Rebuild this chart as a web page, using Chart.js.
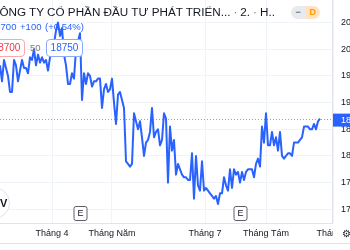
<!DOCTYPE html>
<html>
<head>
<meta charset="utf-8">
<script src="https://cdn.jsdelivr.net/npm/chart.js@4.4.1/dist/chart.umd.min.js"></script>
<style>
  body { margin: 0; background: #fff; }
  #wrap { position: relative; width: 350px; height: 250px; overflow: hidden; font-family: "Liberation Sans", Arial, sans-serif; }
  #chart { position: absolute; left: 0; top: 0; }
  .abs { position: absolute; white-space: nowrap; }
  #title { left: -9px; top: 5px; font-size: 11.7px; line-height: 13px; color: #131722; }
  #title .sep { color: #787b86; margin: 0 3px; }
  #vals { left: -10px; top: 21px; font-size: 9.5px; line-height: 12px; color: #2962ff; word-spacing: 1px; }
  .box { top: 39px; height: 16px; line-height: 16px; font-size: 10px; border-radius: 4px; text-align: center; background: #fff; }
  #bid { left: -12px; width: 35px; border: 1px solid #f7a9b0; color: #f23645; }
  #spread { left: 30px; top: 40px; font-size: 9.5px; line-height: 16px; color: #787b86; }
  #ask { left: 46px; width: 35px; border: 1px solid #8eaaff; color: #2962ff; }
  #toggle { left: 291px; top: 6px; height: 13px; width: 29px; border-radius: 7px; overflow: hidden; font-size: 9px; line-height: 13px; font-weight: bold; }
  #toggle span { display: inline-block; width: 14.5px; text-align: center; }
  #toggle .m { background: #e9eaed; color: #6a6d78; }
  #toggle .d { background: #ffe2bf; color: #ff9800; }
  #corner { left: 333px; top: 224px; width: 17px; height: 19px; background: #fff; color: #131722; font-size: 10px; line-height: 19px; text-indent: 9px; }
  #bottomline { left: 0; top: 243px; width: 350px; height: 1px; background: #e0e3eb; }
  #logo { left: -22px; top: 187px; width: 30px; height: 30px; border-radius: 50%; border: 1px solid #e0e3eb; background: #fff; font-size: 11px; font-weight: bold; line-height: 30px; text-indent: 21px; color: #131722; }
</style>
</head>
<body>
<div id="wrap">
  <canvas id="chart" width="350" height="250"></canvas>
  <div class="abs" id="title">CÔNG TY CỔ PHẦN ĐẦU TƯ PHÁT TRIỂN...<span class="sep">·</span>2.<span class="sep">·</span>H..</div>
  <div class="abs" id="vals">18700 +100 (+0.54%)</div>
  <div class="abs box" id="bid">18700</div>
  <div class="abs" id="spread">50</div>
  <div class="abs box" id="ask">18750</div>
  <div class="abs" id="toggle"><span class="m">−</span><span class="d">D</span></div>
  <div class="abs" id="logo">V</div>
  <div class="abs" id="corner">⚙</div>
  <div class="abs" id="bottomline"></div>
</div>
<script>
// daily closes
const prices = [
    19700, 19400, 19800, 19650, 19500, 19200, 19200, 19800, 19700, 19400,
    19600, 19800, 19650, 19650, 19550, 19850, 19800, 20000, 19700, 19900,
    19750, 19850, 19750, 19800, 19600, 19850, 20000, 20100, 20350, 20500,
    20250, 20400, 19900, 19700, 19350, 19350, 19550, 19450, 20000, 20150,
    20300, 19050, 19550, 19350, 19550, 19500, 19300, 19400, 19400, 19450,
    19450, 18900, 19250, 19350, 19200, 19250, 19450, 19000, 18600, 19150,
    19200, 19050, 18900, 17900, 17850, 17800, 17850, 18800, 18650, 18500,
    18650, 18350, 18000, 18250, 18300, 18450, 18900, 18350, 18450, 18500,
    18200, 18300, 18800, 18700, 17500, 18550, 18100, 18300, 17650, 17850,
    17750, 17650, 17600, 17600, 17550, 17550, 18050, 17200, 18000, 17450,
    17350, 17900, 17350, 17400, 17350, 17300, 17250, 17200, 17250, 17100,
    17300, 17300, 17600, 17450, 17350, 17750, 17400, 17750, 17650, 17700,
    17500, 17700, 17550, 17700, 17750, 17750, 17750, 17600, 17850, 17950,
    17800, 18550, 18250, 18800, 18200, 18200, 18450, 18200, 18350, 18100,
    18450, 18000, 17950, 18000, 18050, 18050, 18000, 18250, 18250, 18250,
    18300, 18350, 18550, 18550, 18550, 18500, 18500, 18600, 18500, 18650,
    18700
];
const monthTicks = [26, 56, 102.5, 133, 166.5];
const monthNames = ['Tháng 4', 'Tháng Năm', 'Tháng 7', 'Tháng Tám', 'Tháng 9'];
const priceTicks = [17000, 17500, 18000, 18500, 19000, 19500, 20000, 20500];
const eventBars = [40, 120];
const lastPrice = prices[prices.length - 1];

const fontFam = '"Liberation Sans", Arial, sans-serif';

const marks = {
    id: 'marks',
    beforeDatasetsDraw(chart) {
        const c = chart.ctx, a = chart.chartArea;
        const py = Math.round(chart.scales.y.getPixelForValue(lastPrice)) + 0.5;
        c.save();
        c.strokeStyle = 'rgba(41, 98, 255, 0.6)';
        c.lineWidth = 1;
        c.setLineDash([1, 2]);
        c.beginPath();
        c.moveTo(a.left, py);
        c.lineTo(a.right, py);
        c.stroke();
        c.restore();
    },
    afterDatasetsDraw(chart) {
        const c = chart.ctx, a = chart.chartArea, xs = chart.scales.x;
        c.save();
        eventBars.forEach(b => {
            const px = Math.round(xs.getPixelForValue(b)) + 0.5;
            c.fillStyle = '#fff';
            c.strokeStyle = '#5d606b';
            c.lineWidth = 1;
            c.beginPath();
            c.roundRect(px - 6.5, a.bottom - 16.5, 13, 14, 2);
            c.fill();
            c.stroke();
            c.fillStyle = '#131722';
            c.font = '9px ' + fontFam;
            c.textAlign = 'center';
            c.textBaseline = 'middle';
            c.fillText('E', px, a.bottom - 9);
        });
        c.restore();
    },
    afterDraw(chart) {
        const c = chart.ctx, ys = chart.scales.y;
        const py = ys.getPixelForValue(lastPrice);
        c.save();
        c.fillStyle = '#2962ff';
        c.fillRect(ys.left + 1, py - 5, ys.width, 13);
        c.fillStyle = '#fff';
        c.font = '9px ' + fontFam;
        c.textBaseline = 'middle';
        c.fillText(String(lastPrice), ys.left + 9, py + 1.5);
        c.restore();
    }
};

const ctx = document.getElementById('chart').getContext('2d');
const myChart = new Chart(ctx, {
    type: 'line',
    data: {
        labels: prices.map((p, i) => i),
        datasets: [{
            data: prices,
            borderColor: '#2962ff',
            borderWidth: 2,
            borderJoinStyle: 'round',
            pointRadius: 0,
            tension: 0
        }]
    },
    options: {
        responsive: false,
        animation: false,
        events: [],
        layout: { padding: { left: 0, right: 0, top: 0, bottom: 7 } },
        plugins: { legend: { display: false }, tooltip: { enabled: false } },
        scales: {
            x: {
                type: 'linear',
                min: 0,
                max: 166,
                grid: { color: '#f0f3fa', drawTicks: false },
                border: { color: '#e0e3eb' },
                ticks: {
                    autoSkip: false,
                    maxRotation: 0,
                    padding: 5,
                    color: '#131722',
                    font: { size: 9, family: fontFam },
                    callback: (v, i) => monthNames[i]
                },
                afterBuildTicks: s => { s.ticks = monthTicks.map(v => ({ value: v })); },
                afterFit: s => { s.height = 20; s.paddingLeft = 0; s.paddingRight = 0; }
            },
            y: {
                position: 'right',
                min: 16743,
                max: 20924,
                grid: { color: '#f0f3fa', drawTicks: false },
                border: { color: '#e0e3eb' },
                ticks: {
                    padding: 9,
                    color: '#131722',
                    font: { size: 9, family: fontFam },
                    callback: v => String(v)
                },
                afterBuildTicks: s => { s.ticks = priceTicks.map(v => ({ value: v })); },
                afterFit: s => { s.width = 18; s.paddingTop = 0; s.paddingBottom = 0; }
            }
        }
    },
    plugins: [marks]
});
</script>
</body>
</html>
